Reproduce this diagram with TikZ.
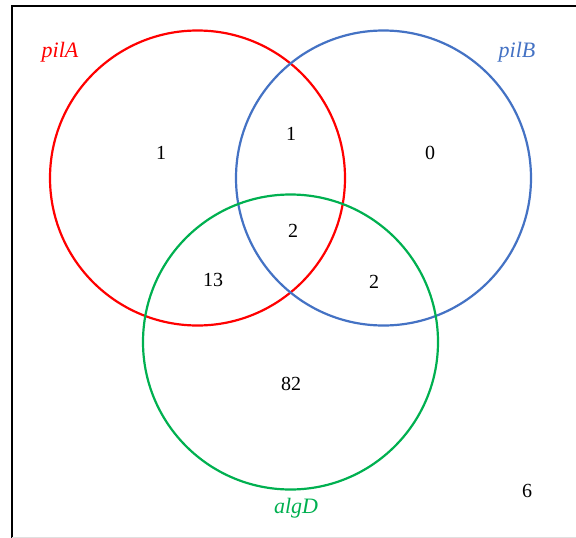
\documentclass[tikz,border=0pt]{standalone}
\usepackage{fontspec}
\setmainfont{Liberation Serif}
\definecolor{cA}{RGB}{255,0,0}
\definecolor{cB}{RGB}{68,114,196}
\definecolor{cD}{RGB}{0,176,80}
\begin{document}
\begin{tikzpicture}[x=1pt,y=-1pt,
  setc/.style={line width=2.2pt},
  num/.style={font=\fontsize{20}{24}\selectfont},
  lab/.style={font=\fontsize{22}{26}\selectfont\itshape}]
\useasboundingbox (0,0) rectangle (576,538);
\fill[white] (0,0) rectangle (576,538);
\draw[line width=2.5pt,black] (12,538) -- (12,6) -- (576,6);
\draw[line width=1pt,black!12] (12,537) -- (576,537);
\draw[setc,cA] (197.5,178) circle[radius=147.5];
\draw[setc,cB] (383.5,178) circle[radius=147.5];
\draw[setc,cD] (290.5,342) circle[radius=147.5];
\node[lab,text=cA] (la) at (60,52) {pilA};
\node[lab,text=cB] (lb) at (517,52) {pilB};
\node[lab,text=cD] (ld) at (296,508) {algD};
\node[num] (n1) at (161,153) {1};
\node[num] (n2) at (291,134) {1};
\node[num] (n3) at (430,153) {0};
\node[num] (n4) at (293,231) {2};
\node[num] (n5) at (213,280) {13};
\node[num] (n6) at (374,282) {2};
\node[num] (n7) at (291,384) {82};
\node[num] (n8) at (527,491) {6};
\end{tikzpicture}
\end{document}
